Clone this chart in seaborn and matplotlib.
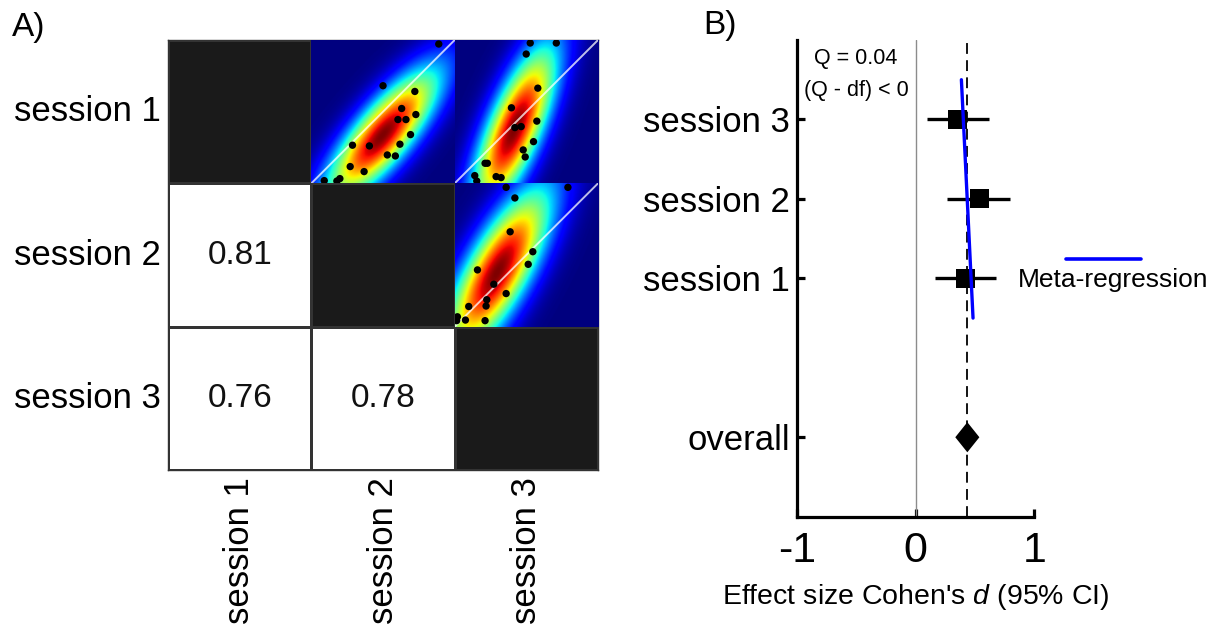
import numpy as np
import matplotlib
matplotlib.use('Agg')
import matplotlib.pyplot as plt
from matplotlib.colors import ListedColormap
from matplotlib.lines import Line2D
from matplotlib.path import Path
import seaborn as sns

# ---- panel A data ----
sessions = ['session 1', 'session 2', 'session 3']
icc_pairs = [(1, 0), (2, 0), (2, 1)]
icc_values = [0.81, 0.76, 0.78]

# scatter points in the upper cells (normalised scores, 0-1)
s1_s2_x = [0.889, 0.500, 0.722, 0.630, 0.729, 0.604, 0.660, 0.692, 0.287,
           0.405, 0.618, 0.530, 0.586, 0.271, 0.368, 0.199, 0.178, 0.090]
s1_s2_y = [0.972, 0.681, 0.641, 0.522, 0.480, 0.445, 0.445, 0.340, 0.266,
           0.261, 0.273, 0.198, 0.191, 0.117, 0.082, 0.033, 0.016, 0.019]
s1_s3_x = [0.527, 0.709, 0.499, 0.580, 0.396, 0.573, 0.420, 0.464, 0.550,
           0.478, 0.492, 0.212, 0.228, 0.289, 0.324, 0.140, 0.154]
s1_s3_y = [0.979, 0.979, 0.902, 0.664, 0.527, 0.434, 0.389, 0.396, 0.291,
           0.233, 0.184, 0.140, 0.140, 0.047, 0.040, 0.054, 0.016]
s2_s3_x = [0.359, 0.790, 0.420, 0.387, 0.545, 0.513, 0.159, 0.273, 0.359,
           0.224, 0.098, 0.219, 0.019, 0.075, 0.212, 0.014]
s2_s3_y = [0.972, 0.972, 0.898, 0.662, 0.523, 0.435, 0.396, 0.296, 0.231,
           0.188, 0.141, 0.144, 0.069, 0.046, 0.042, 0.042]

# ---- panel B data ----
forest_labels = ['session 3', 'session 2', 'session 1', 'overall']
forest_pos = [3, 2, 1, -1]
d_sessions = [0.353, 0.536, 0.418]
ci_low = [0.099, 0.267, 0.160]
ci_high = [0.616, 0.793, 0.681]
d_overall = 0.436
meta_x = [0.386, 0.484]
meta_y = [3.5, 0.5]
xtick_vals = [-1, 0, 1]
xtick_labels = ['-1', '0', '1']

sns.set_style('white')
plt.rcParams['font.family'] = ['Liberation Sans', 'DejaVu Sans']
plt.rcParams['mathtext.fontset'] = 'custom'
plt.rcParams['mathtext.rm'] = 'Liberation Sans'
plt.rcParams['mathtext.it'] = 'Liberation Sans:italic'
for key in ['text.color', 'axes.labelcolor', 'xtick.color', 'ytick.color']:
    plt.rcParams[key] = 'black'


def gauss_img(x, y, n=220):
    # bivariate normal fitted to the points, shown on a softened scale
    pts = np.vstack([x, y])
    mu = pts.mean(axis=1)
    inv = np.linalg.inv(np.cov(pts) + 0.001 * np.eye(2))
    g = np.linspace(0, 1, n)
    gx, gy = np.meshgrid(g, g)
    d = np.stack([gx - mu[0], gy - mu[1]], axis=-1)
    m = np.einsum('...i,ij,...j->...', d, inv, d)
    return np.exp(-0.5 * m) ** 0.7


fig = plt.figure(figsize=(12.14, 6.26), dpi=100)

# ---------------- panel A ----------------
axA = fig.add_axes([0.1384, 0.2492, 0.3542, 0.6869])
vals = np.full((3, 3), np.nan)
annot = np.full((3, 3), '', dtype=object)
for (i, j), v in zip(icc_pairs, icc_values):
    vals[i, j] = v
    annot[i, j] = f'{v:.2f}'
lower_mask = ~np.tril(np.ones((3, 3), bool), -1)
sns.heatmap(vals, mask=lower_mask, cmap=ListedColormap(['white']), annot=annot, fmt='',
            cbar=False, linewidths=1, linecolor='#333333',
            annot_kws={'fontsize': 24, 'color': '#111111'}, ax=axA)
diag_mask = ~np.eye(3, dtype=bool)
sns.heatmap(np.eye(3), mask=diag_mask, cmap=ListedColormap(['#1a1a1a']), cbar=False,
            linewidths=1, linecolor='#333333', ax=axA,
            xticklabels=sessions, yticklabels=sessions)
axA.set_xticklabels(sessions, rotation=90, fontsize=25)
axA.set_yticklabels(sessions, rotation=0, fontsize=25)
axA.tick_params(direction='in', length=4, color='#666666', left=True, bottom=True, pad=5)
for sp in axA.spines.values():
    sp.set_visible(True)
    sp.set_color('#333333')
    sp.set_linewidth(1)

cells = [(0, 1, s1_s2_x, s1_s2_y), (0, 2, s1_s3_x, s1_s3_y), (1, 2, s2_s3_x, s2_s3_y)]
for i, j, px, py in cells:
    ins = axA.inset_axes([j / 3, 1 - (i + 1) / 3, 1 / 3, 1 / 3])
    ins.imshow(gauss_img(px, py), extent=[0, 1, 0, 1], origin='lower', cmap='jet',
               vmin=0, vmax=1, aspect='auto', interpolation='bilinear')
    ins.axline((0, 0), (1, 1), color='white', alpha=0.75, lw=1.4, zorder=3)
    sns.scatterplot(x=px, y=py, color='black', s=28, edgecolor='none', ax=ins,
                    legend=False, zorder=4)
    ins.set_xlim(0, 1)
    ins.set_ylim(0, 1)
    ins.set_xticks([])
    ins.set_yticks([])
    for sp in ins.spines.values():
        sp.set_visible(False)

# ---------------- panel B ----------------
axB = fig.add_axes([0.6563, 0.1746, 0.1957, 0.7615])
axB.axvline(0, color='#8c8c8c', lw=1, zorder=1)
axB.axvline(d_overall, color='black', lw=1.3, ls=(0, (6, 3.5)), zorder=1)
axB.hlines(forest_pos[:3], ci_low, ci_high, color='black', lw=2.4, zorder=2)
sns.scatterplot(x=d_sessions, y=forest_pos[:3], marker='s', s=190, color='black',
                edgecolor='none', ax=axB, legend=False, zorder=3)
diamond = Path([(0, 1), (0.8, 0), (0, -1), (-0.8, 0), (0, 1)])
sns.scatterplot(x=[d_overall], y=[forest_pos[3]], marker=diamond, s=470, color='black',
                edgecolor='none', ax=axB, legend=False, zorder=3)
axB.plot(meta_x, meta_y, color='#0000ff', lw=2.4, zorder=4)

axB.set_xlim(-1, 1)
axB.set_ylim(-2, 4)
axB.set_xticks(xtick_vals)
axB.set_xticklabels(xtick_labels, fontsize=31)
axB.set_yticks(forest_pos)
axB.set_yticklabels(forest_labels, fontsize=25)
axB.tick_params(axis='both', direction='in', width=2.3, length=6, color='black',
                left=True, bottom=True)
axB.tick_params(axis='x', pad=10)
axB.tick_params(axis='y', pad=5)
axB.spines['top'].set_visible(False)
axB.spines['right'].set_visible(False)
axB.spines['left'].set_linewidth(2.3)
axB.spines['bottom'].set_linewidth(2.3)
axB.spines['left'].set_color('black')
axB.spines['bottom'].set_color('black')
axB.set_xlabel("Effect size Cohen's $d$ (95% CI)", fontsize=20.5, labelpad=8)

axB.text(0.25, 0.962, 'Q = 0.04', transform=axB.transAxes, ha='center', va='center',
         fontsize=15.5)
axB.text(0.25, 0.895, '(Q - df) < 0', transform=axB.transAxes, ha='center', va='center',
         fontsize=15.5)

# legend for the meta-regression line
fig.add_artist(Line2D([1066 / 1214, 1141 / 1214], [1 - 259 / 626, 1 - 259 / 626],
                      transform=fig.transFigure, color='#0000ff', lw=2.6))
fig.text(1018 / 1214, 1 - 280 / 626, 'Meta-regression', fontsize=19, ha='left', va='center')

fig.text(12 / 1214, 1 - 12 / 626, 'A)', fontsize=24, ha='left', va='top')
fig.text(703 / 1214, 1 - 10 / 626, 'B)', fontsize=24, ha='left', va='top')

fig.savefig('out.png', dpi=100)
plt.close(fig)
